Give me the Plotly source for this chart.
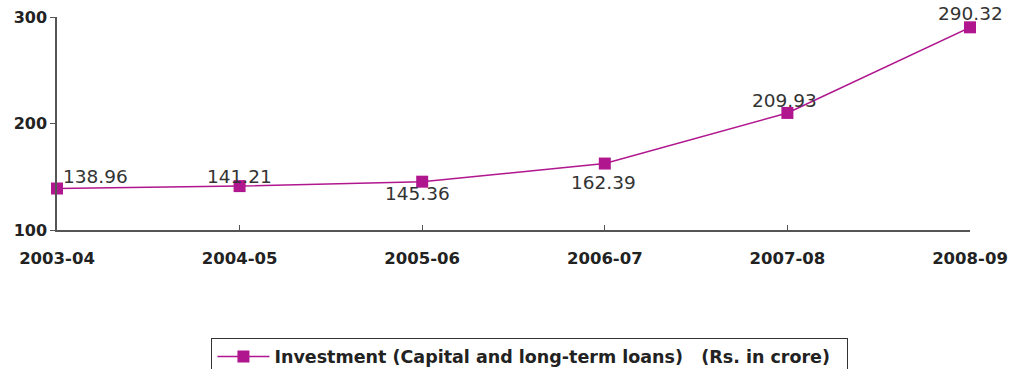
import plotly.graph_objects as go

years = ["2003-04", "2004-05", "2005-06", "2006-07", "2007-08", "2008-09"]
investment = [138.96, 141.21, 145.36, 162.39, 209.93, 290.32]
y_ticks = [100, 200, 300]
series_name = "Investment (Capital and long-term loans)   (Rs. in crore)"

# label placement (style only): x anchor, x shift, y shift in px
label_xanchor = ["left", "center", "center", "center", "center", "center"]
label_xshift = [4, 0, -5, -1, -3, 0]
label_yshift = [12, 10, -12, -19, 12, 14]

color = "#B0168E"
label_font = dict(family="DejaVu Sans", size=18.5, color="#333333")

fig = go.Figure()
fig.add_trace(go.Scatter(
    x=years, y=investment, mode="lines+markers",
    name=series_name + "\u00a0\u00a0",
    line=dict(color=color, width=1.5),
    marker=dict(symbol="square", size=12, color=color),
    cliponaxis=False,
))

for i, (yr, v) in enumerate(zip(years, investment)):
    fig.add_annotation(
        x=yr, y=v, text=f"{v:.2f}", showarrow=False,
        xanchor=label_xanchor[i], yanchor="middle",
        xshift=label_xshift[i], yshift=label_yshift[i],
        font=label_font,
    )

fig.update_layout(
    width=1009, height=369,
    margin=dict(l=57, r=39, t=17, b=139, autoexpand=False),
    paper_bgcolor="white", plot_bgcolor="white",
    showlegend=True,
    legend=dict(
        orientation="h", x=0.518, xanchor="center", y=-0.505, yanchor="top",
        bordercolor="#333333", borderwidth=1,
        font=dict(family="DejaVu Sans", size=17.5, color="#222222", weight="bold"),
        itemwidth=52,
    ),
    font=dict(family="DejaVu Sans"),
)
fig.update_xaxes(
    type="category", range=[0, len(years) - 1],
    showline=True, linecolor="#555555", linewidth=1.5,
    ticks="inside", ticklen=5, tickcolor="#555555",
    showgrid=False, zeroline=False, automargin=False,
    tickfont=dict(family="DejaVu Sans", size=16.5, color="#222222", weight="bold"),
    ticklabelstandoff=12,
)
fig.update_yaxes(
    range=[100, 300], tickvals=y_ticks,
    showline=True, linecolor="#555555", linewidth=1.5,
    ticks="outside", ticklen=5, tickcolor="#555555",
    showgrid=False, zeroline=False, automargin=False,
    tickfont=dict(family="DejaVu Sans", size=16, color="#222222", weight="bold"),
)

fig.write_html("out.html", config={"displayModeBar": False},
               post_script="document.body.style.margin='0';")
